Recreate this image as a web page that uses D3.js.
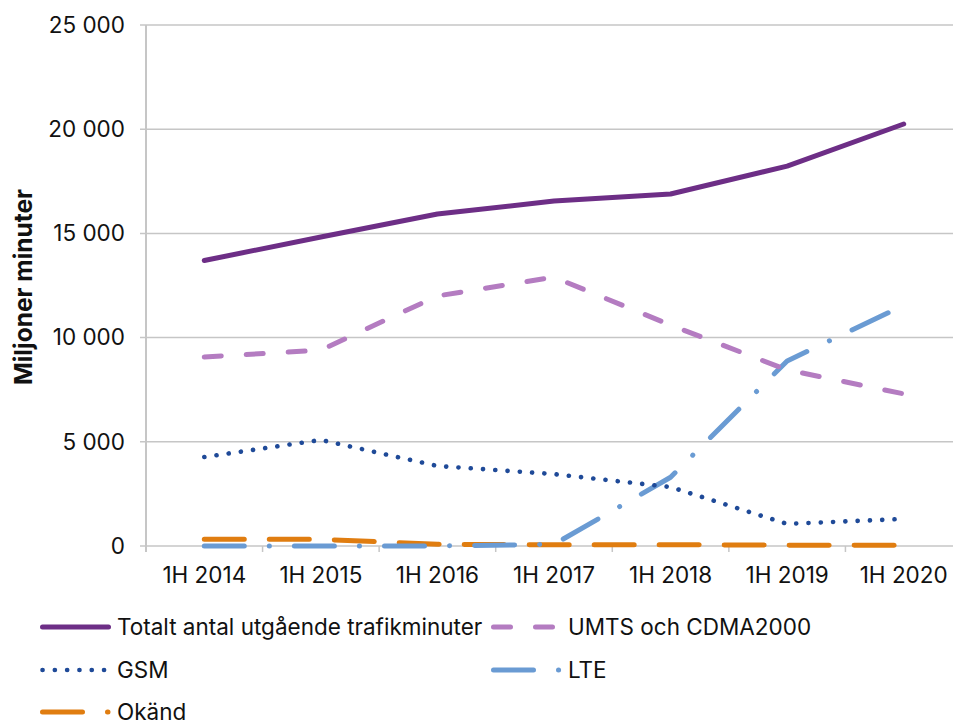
<!DOCTYPE html>
<html>
<head>
<meta charset="utf-8">
<script src="https://cdn.jsdelivr.net/npm/d3@7"></script>
<style>
  body { margin: 0; background: #fff; }
  text { font-family: Inter, "Liberation Sans", Arial, sans-serif; fill: #111; }
</style>
</head>
<body>
<div id="chart"></div>
<script>
const width = 953,
	height = 722;

const periods = ["1H 2014", "1H 2015", "1H 2016", "1H 2017", "1H 2018", "1H 2019", "1H 2020"];
const totalt = [13700, 14830, 15930, 16550, 16890, 18230, 20250];
const umts = [9070, 9400, 12000, 12900, 10600, 8450, 7300];
const gsm = [4270, 5090, 3840, 3450, 2830, 1060, 1300];
const lte = [0, 0, 0, 80, 3300, 8880, 11550];
const okand = [320, 320, 80, 60, 60, 40, 30];
const yTicks = [0, 5000, 10000, 15000, 20000, 25000];

const fontFam = "Inter, Liberation Sans, Arial, sans-serif";

const series = [
	{ name: "Totalt antal utgående trafikminuter", values: totalt, color: "#6d2e86", dash: null, w: 5 },
	{ name: "UMTS och CDMA2000", values: umts, color: "#b47cc1", dash: "17,25", w: 5 },
	{ name: "GSM", values: gsm, color: "#1f4a98", dash: "0.1,12.2", w: 4.6 },
	{ name: "LTE", values: lte, color: "#6a9bd3", dash: "40,25,0.1,25", w: 5 },
	{ name: "Okänd", values: okand, color: "#e07d10", dash: "40,25", w: 5 },
];

const x = d3.scaleBand().domain(periods).range([146, 962]);
const y = d3.scaleLinear().domain([0, 25000]).range([546, 25]);

const svg = d3
	.select("#chart")
	.append("svg")
	.attr("width", width)
	.attr("height", height);

// gridlines
svg.append("g")
	.selectAll("line")
	.data(yTicks)
	.join("line")
	.attr("x1", 140)
	.attr("x2", width)
	.attr("y1", (d) => y(d))
	.attr("y2", (d) => y(d))
	.attr("stroke", "#c6c6c6")
	.attr("stroke-width", 1.5);

// y axis labels
const yAxis = d3.axisLeft(y)
	.tickValues(yTicks)
	.tickSize(0)
	.tickPadding(21)
	.tickFormat((d) => d3.format(",")(d).replace(",", " "));

svg.append("g")
	.attr("transform", "translate(146,0)")
	.call(yAxis)
	.call((g) => g.select(".domain").remove())
	.selectAll("text")
	.attr("font-size", 22.5)
	.attr("font-family", fontFam)
	.attr("fill", "#111");

// axis lines
svg.append("line")
	.attr("x1", 146).attr("x2", 146)
	.attr("y1", 25).attr("y2", 552)
	.attr("stroke", "#c6c6c6").attr("stroke-width", 2);

svg.append("g")
	.selectAll("line")
	.data(periods.slice(1))
	.join("line")
	.attr("x1", (d) => x(d)).attr("x2", (d) => x(d))
	.attr("y1", 546).attr("y2", 552)
	.attr("stroke", "#c6c6c6").attr("stroke-width", 1.5);

// x axis labels
const xAxis = d3.axisBottom(x).tickSize(0).tickPadding(21);
svg.append("g")
	.attr("transform", "translate(0,546)")
	.call(xAxis)
	.call((g) => g.select(".domain").remove())
	.selectAll("text")
	.attr("font-size", 22.5)
	.attr("font-family", fontFam)
	.attr("fill", "#111");

// y title
svg.append("text")
	.attr("transform", "translate(32,287) rotate(-90)")
	.attr("text-anchor", "middle")
	.attr("font-size", 24.5)
	.attr("font-weight", "bold")
	.text("Miljoner minuter");

// lines
const line = d3.line()
	.x((d, i) => x(periods[i]) + x.bandwidth() / 2)
	.y((d) => y(d));

// draw order: bottom first
const drawOrder = [4, 3, 2, 1, 0];
svg.append("g")
	.selectAll("path")
	.data(drawOrder.map((i) => series[i]))
	.join("path")
	.attr("d", (d) => line(d.values))
	.attr("fill", "none")
	.attr("stroke", (d) => d.color)
	.attr("stroke-width", (d) => d.w)
	.attr("stroke-linecap", "round")
	.attr("stroke-linejoin", "round")
	.attr("stroke-dasharray", (d) => d.dash);

// legend
const legendPos = [
	{ x: 42.5, y: 627, len: 66 },
	{ x: 493.5, y: 627, len: 60 },
	{ x: 42.5, y: 670, len: 62 },
	{ x: 493.5, y: 670, len: 65.5 },
	{ x: 42.5, y: 712, len: 65.5 },
];

const legend = svg.append("g")
	.selectAll("g")
	.data(series)
	.join("g")
	.attr("transform", (d, i) => `translate(${legendPos[i].x},${legendPos[i].y})`);

legend.append("line")
	.attr("x1", 0)
	.attr("x2", (d, i) => legendPos[i].len)
	.attr("stroke", (d) => d.color)
	.attr("stroke-width", (d) => d.w)
	.attr("stroke-linecap", "round")
	.attr("stroke-dasharray", (d) => d.dash);

legend.append("text")
	.attr("x", (d, i) => (i % 2 === 0 ? 117 : 568) - legendPos[i].x)
	.attr("dy", "0.35em")
	.attr("font-size", 22.5)
	.text((d) => d.name);
</script>
</body>
</html>
